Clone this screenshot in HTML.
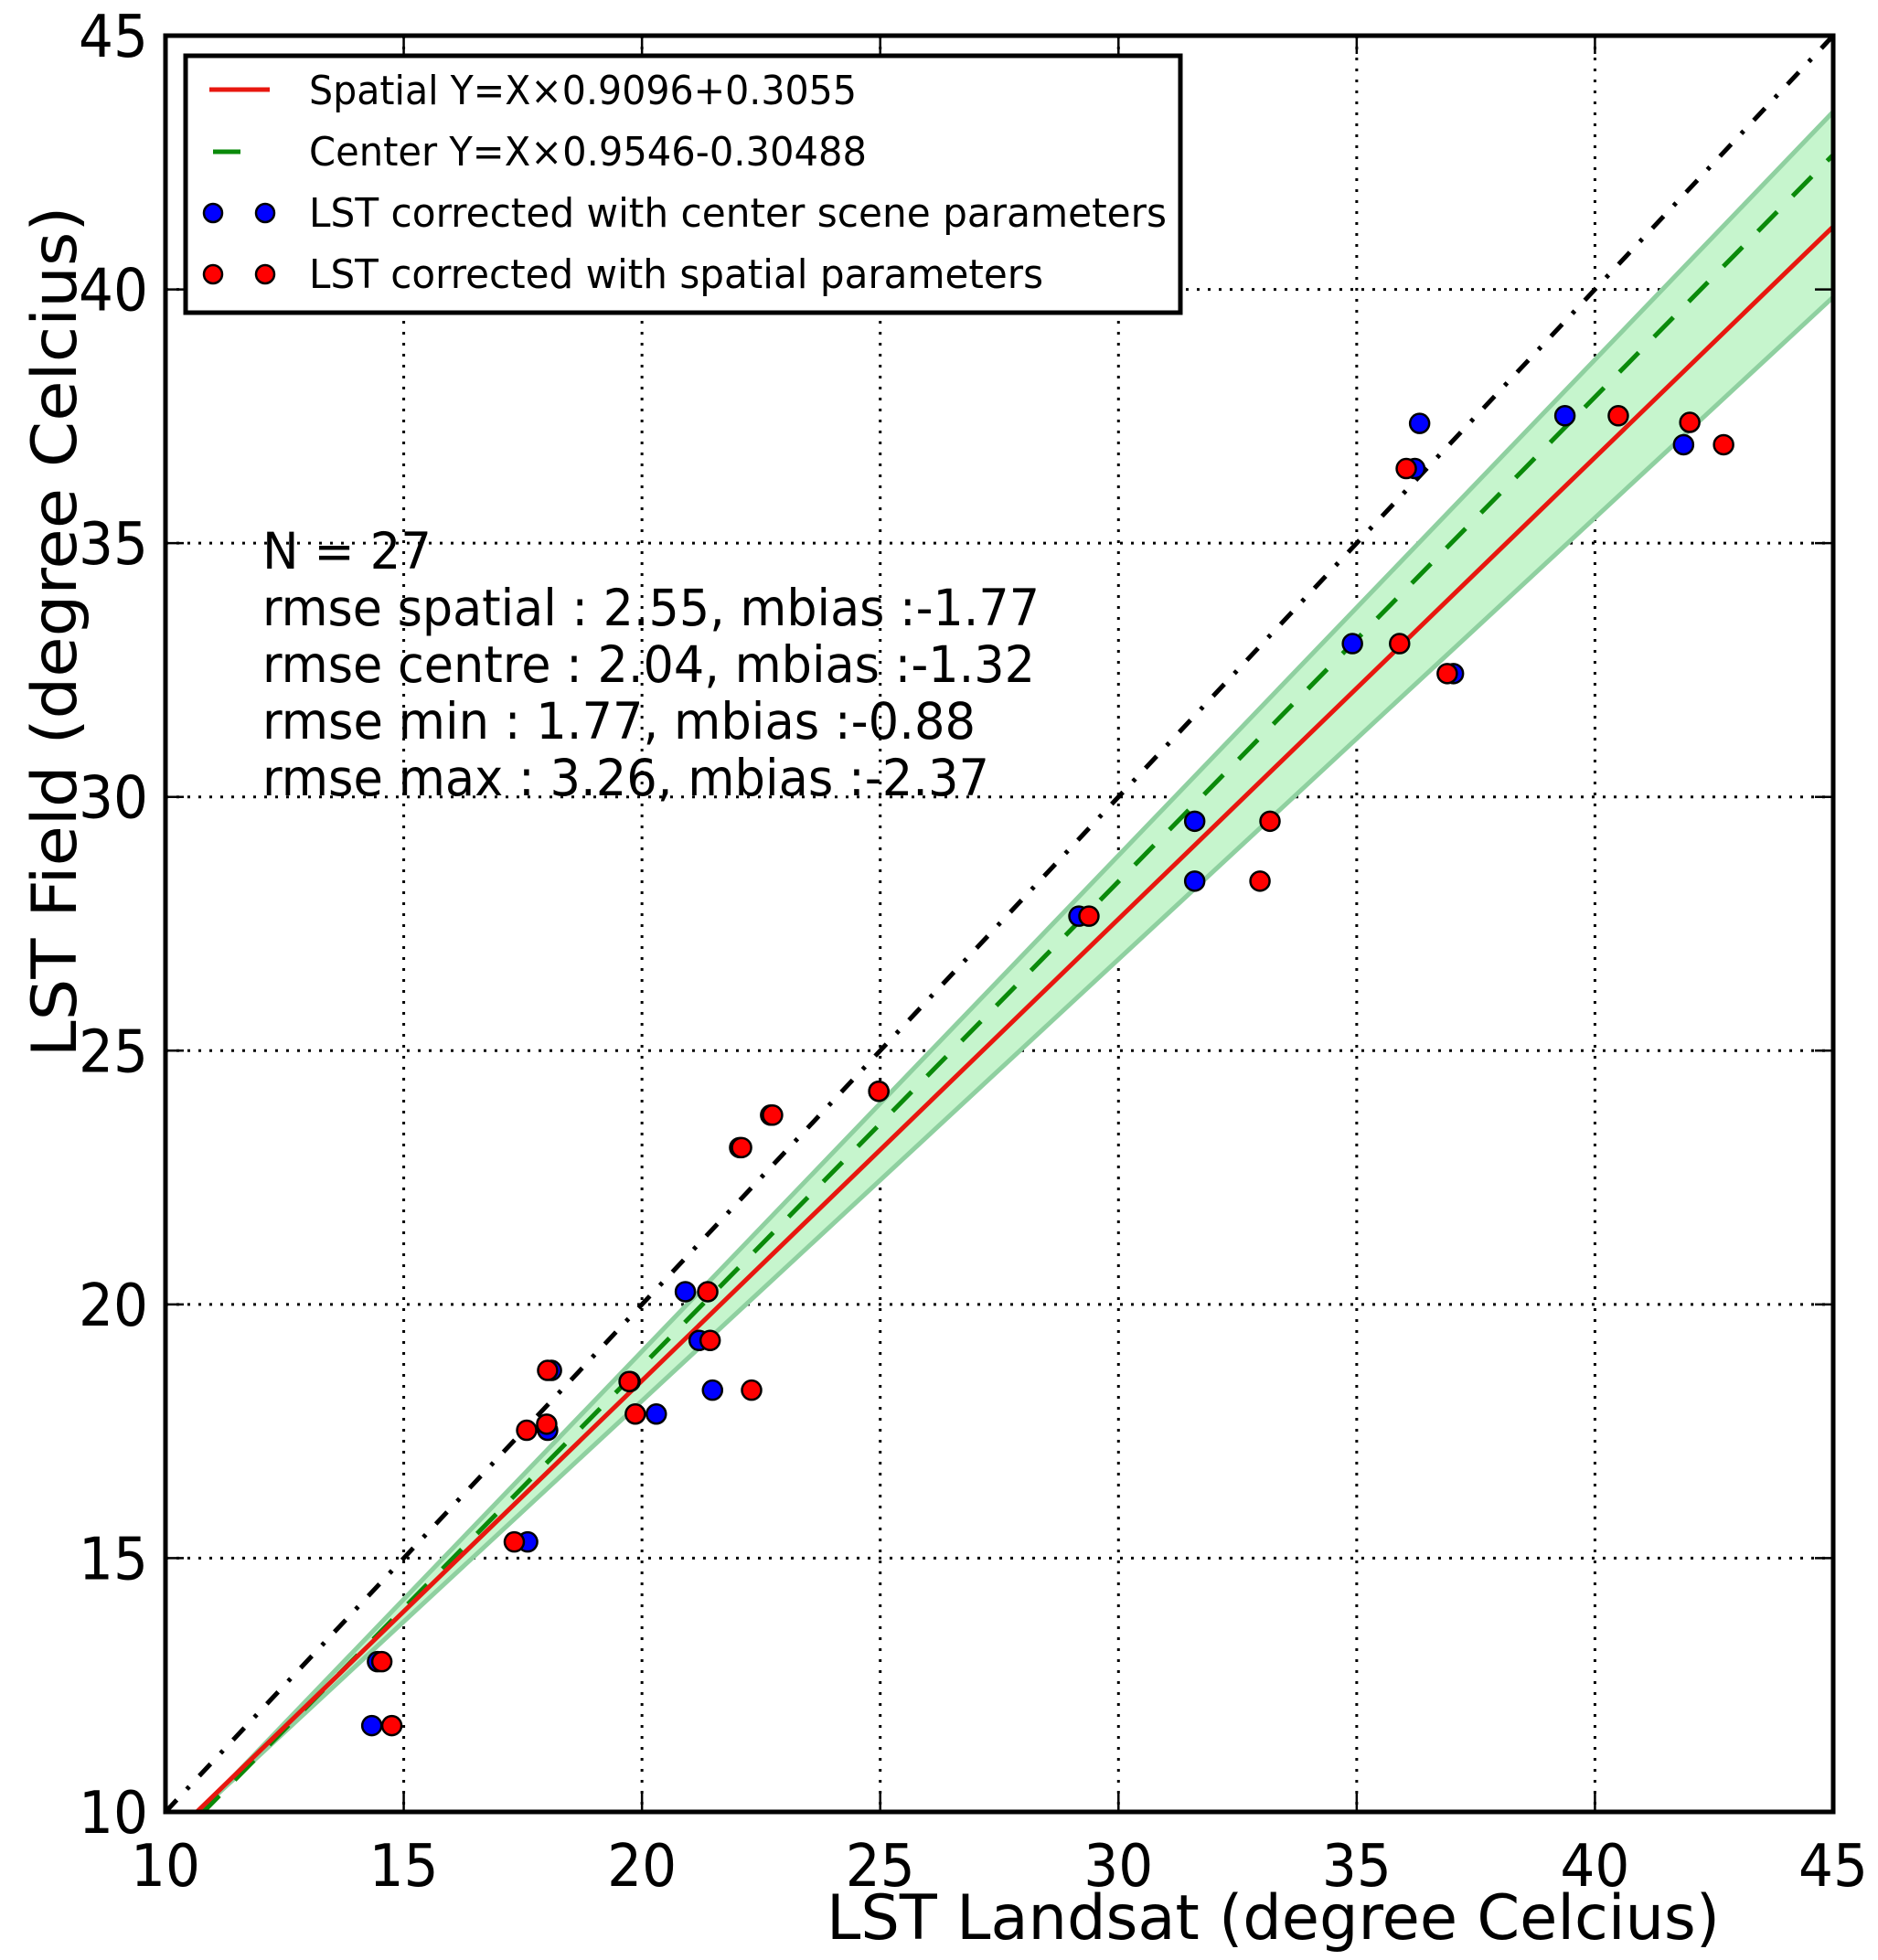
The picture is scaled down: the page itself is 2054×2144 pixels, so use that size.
<!DOCTYPE html>
<html><head><meta charset="utf-8"><style>html,body{margin:0;padding:0;background:#fff}svg{display:block}</style></head>
<body>
<svg id="chart" width="2054" height="2144" viewBox="0 0 2054 2144" xmlns="http://www.w3.org/2000/svg" font-family="'DejaVu Sans','Liberation Sans',sans-serif"></svg>
<script>
const xTicks = [10, 15, 20, 25, 30, 35, 40, 45];
const yTicks = [10, 15, 20, 25, 30, 35, 40, 45];
const blueX = [14.33, 14.45, 17.60, 18.02, 18.10, 19.75, 20.30, 20.91, 21.20, 21.48, 22.05, 22.70, 24.97, 29.17, 31.60, 31.60, 34.91, 37.03, 36.22, 36.32, 39.37, 41.86];
const blueY = [11.70, 12.96, 15.32, 17.52, 18.70, 18.48, 17.84, 20.25, 19.29, 18.31, 23.09, 23.73, 24.20, 27.65, 29.52, 28.34, 33.02, 32.43, 36.47, 37.36, 37.51, 36.94];
const redX = [14.54, 14.75, 17.32, 17.58, 18.00, 18.02, 19.73, 19.86, 21.38, 21.43, 22.30, 22.09, 22.74, 24.97, 29.38, 32.97, 33.18, 35.90, 36.90, 36.04, 40.49, 41.99, 42.70];
const redY = [12.96, 11.70, 15.32, 17.52, 17.64, 18.70, 18.48, 17.84, 20.25, 19.29, 18.31, 23.09, 23.73, 24.20, 27.65, 28.34, 29.52, 33.02, 32.43, 36.47, 37.51, 37.38, 36.94];
const spatialFit = [0.9096, 0.3055];
const centerFit = [0.9546, -0.30488];
const bandUpper = [0.977, -0.465];
const bandLower = [0.870, 0.70];
const statLines = ["N = 27", "rmse spatial : 2.55, mbias :-1.77", "rmse centre : 2.04, mbias :-1.32", "rmse min : 1.77, mbias :-0.88", "rmse max : 3.26, mbias :-2.37"];

const svg = document.getElementById('chart');
const NS = 'http://www.w3.org/2000/svg';
const L = 181, R = 2005, T = 39, B = 1982;
const sx = v => L + (v - 10) / 35 * (R - L);
const sy = v => B - (v - 10) / 35 * (B - T);
function mk(tag, attrs, parent) {
  const e = document.createElementNS(NS, tag);
  for (const k in attrs) e.setAttribute(k, attrs[k]);
  (parent || svg).appendChild(e);
  return e;
}
const defs = mk('defs', {});
const cp = mk('clipPath', {id: 'plotclip'}, defs);
mk('rect', {x: L, y: T, width: R - L, height: B - T}, cp);
const plot = mk('g', {'clip-path': 'url(#plotclip)'});



xTicks.slice(1, -1).forEach(t => {
  const g = mk('line', {x1: sx(t), x2: sx(t), y1: T, y2: B, stroke: '#000', 'stroke-width': 3, 'stroke-dasharray': '3,9'}, plot);
  
  
});
yTicks.slice(1, -1).forEach(t => {
  const g = mk('line', {x1: L, x2: R, y1: sy(t), y2: sy(t), stroke: '#000', 'stroke-width': 3, 'stroke-dasharray': '3,9'}, plot);
  
  
});

const x0 = 10, x1 = 45;
const band = mk('polygon', {points: [
  [sx(x0), sy(bandUpper[0]*x0+bandUpper[1])], [sx(x1), sy(bandUpper[0]*x1+bandUpper[1])],
  [sx(x1), sy(bandLower[0]*x1+bandLower[1])], [sx(x0), sy(bandLower[0]*x0+bandLower[1])]
].map(p => p.join(',')).join(' '), fill: '#c6f5cd', stroke: '#8fd0a0', 'stroke-width': 5}, plot);



const one = mk('line', {x1: sx(10), y1: sy(10), x2: sx(45), y2: sy(45), stroke: '#000', 'stroke-width': 5, 'stroke-dasharray': '18,16,4,16'}, plot);



const cl = mk('line', {x1: sx(x0), y1: sy(centerFit[0]*x0+centerFit[1]), x2: sx(x1), y2: sy(centerFit[0]*x1+centerFit[1]), stroke: '#0a8a0a', 'stroke-width': 5, 'stroke-dasharray': '30,24'}, plot);


const sl = mk('line', {x1: sx(x0), y1: sy(spatialFit[0]*x0+spatialFit[1]), x2: sx(x1), y2: sy(spatialFit[0]*x1+spatialFit[1]), stroke: '#e8170f', 'stroke-width': 5}, plot);



blueX.forEach((v, i) => {
  const c = mk('circle', {cx: sx(v), cy: sy(blueY[i]), r: 10.5, fill: '#0000ff', stroke: '#000', 'stroke-width': 2.5});
  
  
});
redX.forEach((v, i) => {
  const c = mk('circle', {cx: sx(v), cy: sy(redY[i]), r: 10.5, fill: '#ff0000', stroke: '#000', 'stroke-width': 2.5});
  
  
});

const frame = mk('rect', {x: L, y: T, width: R - L, height: B - T, fill: 'none', stroke: '#000', 'stroke-width': 5});


xTicks.forEach(t => {
  mk('line', {x1: sx(t), x2: sx(t), y1: B, y2: B - 20, stroke: '#000', 'stroke-width': 2.5});
  mk('line', {x1: sx(t), x2: sx(t), y1: T, y2: T + 20, stroke: '#000', 'stroke-width': 2.5});
  const tx = mk('text', {x: sx(t), y: 2063, 'font-size': 64, 'text-anchor': 'middle', textLength: 76, lengthAdjust: 'spacingAndGlyphs'});
  tx.textContent = t;
  
  
});
yTicks.forEach(t => {
  mk('line', {x1: L, x2: L + 20, y1: sy(t), y2: sy(t), stroke: '#000', 'stroke-width': 2.5});
  mk('line', {x1: R, x2: R - 20, y1: sy(t), y2: sy(t), stroke: '#000', 'stroke-width': 2.5});
  const tx = mk('text', {x: 162, y: sy(t) + 23, 'font-size': 64, 'text-anchor': 'end', textLength: 76, lengthAdjust: 'spacingAndGlyphs'});
  tx.textContent = t;
  
  
});

const xl = mk('text', {x: 904, y: 2121, 'font-size': 68, textLength: 977, lengthAdjust: 'spacingAndGlyphs'});
xl.textContent = 'LST Landsat (degree Celcius)';


const yl = mk('text', {x: 0, y: 0, 'font-size': 68, 'text-anchor': 'middle', textLength: 931, lengthAdjust: 'spacingAndGlyphs', transform: 'translate(83,691) rotate(-90)'});
yl.textContent = 'LST Field (degree Celcius)';



statLines.forEach((s, i) => {
  const widths = [185, 850, 845, 780, 795];
  const t = mk('text', {x: 287, y: 622 + i * 62, 'font-size': 55, textLength: widths[i], lengthAdjust: 'spacingAndGlyphs'});
  t.textContent = s;
  
  
});

const lg = mk('g', {});


mk('rect', {x: 203, y: 61, width: 1088, height: 281, fill: '#fff', stroke: '#000', 'stroke-width': 5}, lg);
mk('line', {x1: 229, x2: 295, y1: 98, y2: 98, stroke: '#e8170f', 'stroke-width': 5}, lg);
mk('line', {x1: 233, x2: 263, y1: 166, y2: 166, stroke: '#0a8a0a', 'stroke-width': 5}, lg);
[233, 290].forEach(x => {
  mk('circle', {cx: x, cy: 233, r: 10, fill: '#0000ff', stroke: '#000', 'stroke-width': 2.5}, lg);
  mk('circle', {cx: x, cy: 300, r: 10, fill: '#ff0000', stroke: '#000', 'stroke-width': 2.5}, lg);
});
const legTexts = [['Spatial Y=X×0.9096+0.3055', 599, 'legend-entry-spatial'], ['Center Y=X×0.9546-0.30488', 610, 'legend-entry-center'], ['LST corrected with center scene parameters', 938, 'legend-entry-center-points'], ['LST corrected with spatial parameters', 803, 'legend-entry-spatial-points']];
legTexts.forEach((e, i) => {
  const t = mk('text', {x: 338, y: 114 + i * 67, 'font-size': 44, textLength: e[1], lengthAdjust: 'spacingAndGlyphs'}, lg);
  t.textContent = e[0];
  
  
});
</script>
</body></html>
